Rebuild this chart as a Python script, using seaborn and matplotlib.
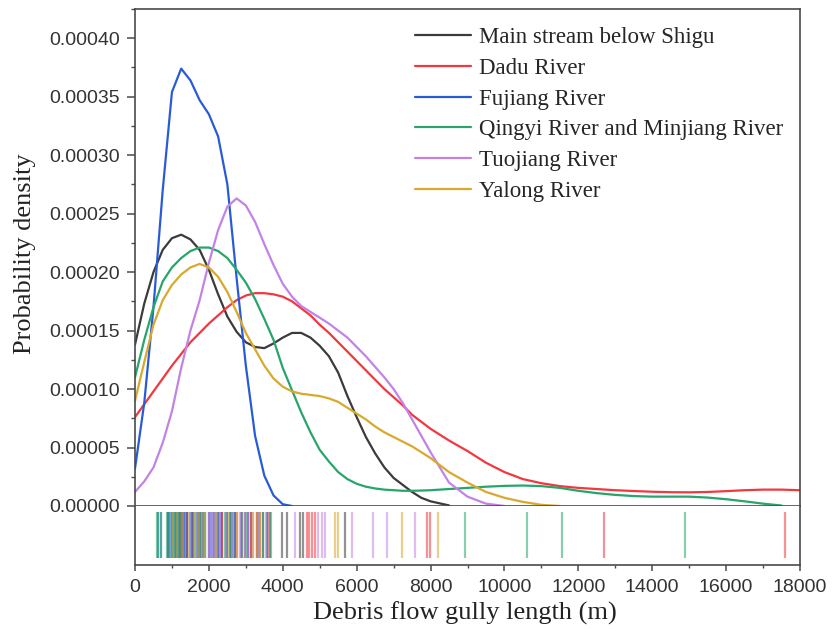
import numpy as np
import pandas as pd
import matplotlib
matplotlib.use("Agg")
import matplotlib.pyplot as plt
from matplotlib.ticker import MultipleLocator, FormatStrFormatter
import seaborn as sns

# ---- data -------------------------------------------------------------
rivers = [
    "Main stream below Shigu",
    "Dadu River",
    "Fujiang River",
    "Qingyi River and Minjiang River",
    "Tuojiang River",
    "Yalong River",
]
colors = ["#3b3b3b", "#f2383f", "#2a5bd7", "#27a56a", "#c383e6", "#d8a92c"]

# evaluation lengths (m): every 250 m up to 8000, then every 500 m
length_grid = list(range(0, 8001, 250)) + list(range(8500, 18001, 500))

# probability density along length_grid, in units of 1e-5 per metre
shigu_density = [13.8, 17.3, 20.0, 21.9, 22.9, 23.2, 22.8, 21.9, 20.2, 18.1,
                 16.2, 14.9, 14.0, 13.6, 13.5, 13.9, 14.4, 14.8, 14.8, 14.4,
                 13.7, 12.8, 11.4, 9.4, 7.6, 5.9, 4.5, 3.3, 2.4, 1.8,
                 1.2, 0.7, 0.4, 0.05]
dadu_density = [7.6, 8.7, 9.8, 10.9, 12.0, 13.0, 14.0, 14.8, 15.6, 16.3,
                17.0, 17.6, 18.0, 18.2, 18.2, 18.1, 17.9, 17.5, 16.9, 16.3,
                15.5, 14.8, 14.0, 13.2, 12.4, 11.6, 10.8, 10.0, 9.3, 8.6,
                7.8, 7.2, 6.6, 5.6, 4.7, 3.7, 2.9, 2.3, 1.95, 1.7,
                1.55, 1.45, 1.35, 1.28, 1.22, 1.18, 1.17, 1.2, 1.27, 1.35,
                1.4, 1.4, 1.35]
fujiang_density = [3.2, 8.8, 17.0, 27.0, 35.4, 37.4, 36.4, 34.7, 33.5, 31.6,
                   27.5, 19.5, 12.0, 6.0, 2.6, 0.9, 0.15, 0.0]
qingyi_minjiang_density = [11.0, 14.2, 17.0, 19.2, 20.4, 21.2, 21.8, 22.1, 22.1, 21.8,
                           21.2, 20.2, 19.1, 17.7, 16.0, 14.2, 11.8, 9.9, 8.0, 6.3,
                           4.8, 3.8, 2.9, 2.3, 1.9, 1.65, 1.5, 1.4, 1.35, 1.3,
                           1.3, 1.32, 1.35, 1.45, 1.55, 1.65, 1.72, 1.75, 1.7, 1.55,
                           1.3, 1.1, 0.95, 0.85, 0.8, 0.8, 0.8, 0.72, 0.58, 0.4,
                           0.2, 0.04]
tuojiang_density = [1.2, 2.1, 3.3, 5.4, 8.1, 11.8, 15.0, 17.6, 20.8, 23.6,
                    25.6, 26.3, 25.7, 24.3, 22.4, 20.6, 19.0, 17.9, 17.1, 16.6,
                    16.1, 15.6, 15.0, 14.4, 13.6, 12.8, 11.9, 11.0, 10.0, 8.8,
                    7.4, 6.0, 4.6, 2.0, 0.8, 0.2, 0.0]
yalong_density = [9.0, 12.3, 15.5, 17.6, 18.9, 19.8, 20.4, 20.7, 20.4, 19.6,
                  18.3, 16.6, 14.8, 13.4, 12.0, 10.9, 10.2, 9.8, 9.6, 9.5,
                  9.4, 9.2, 8.9, 8.4, 7.9, 7.4, 6.8, 6.3, 5.9, 5.5,
                  5.1, 4.6, 4.1, 2.9, 2.0, 1.2, 0.7, 0.35, 0.1, 0.0]

# individual debris flow gully lengths (m)
shigu_lengths = [900, 1040, 1150, 1230, 1310, 1400, 1530, 1700, 1850, 2260,
                 2350, 2480, 2570, 2700, 2980, 3070, 3150, 3300, 3470, 3650,
                 3970, 4110, 4470, 4560, 5690]
dadu_lengths = [1220, 1300, 1400, 1530, 1750, 2000, 2170, 2350, 2760, 2900,
                3150, 3290, 3380, 3600, 4650, 4720, 4800, 4870, 7900, 7990,
                12700, 17600]
fujiang_lengths = [620, 700, 880, 950, 1010, 1080, 1120, 1150, 1200, 1260,
                   1320, 1350, 1400, 1480, 1560, 1650, 1700, 1780, 1900, 2010,
                   2050, 2100, 2200, 2280, 2330, 2450, 2560, 2620, 2700, 2880,
                   3050, 3350, 3560]
qingyi_minjiang_lengths = [590, 620, 700, 860, 920, 990, 1060, 1120, 1180, 1250,
                           1600, 1760, 1900, 2150, 2440, 2500, 2570, 2650, 2890,
                           3000, 3470, 3560, 3680, 8930, 10600, 11550, 14890]
tuojiang_lengths = [1990, 2080, 2170, 2300, 2450, 2660, 2850, 2980, 3070, 3200,
                    3350, 3550, 4330, 4960, 5050, 5140, 5870, 6450, 6810, 7580]
yalong_lengths = [1040, 1150, 1310, 1450, 1620, 1700, 1900, 2200, 2550, 2750,
                  3200, 3290, 3380, 5410, 5500, 7220, 8210]

density_series = [shigu_density, dadu_density, fujiang_density,
                  qingyi_minjiang_density, tuojiang_density, yalong_density]
length_series = [shigu_lengths, dadu_lengths, fujiang_lengths,
                 qingyi_minjiang_lengths, tuojiang_lengths, yalong_lengths]

curves = pd.concat(
    [pd.DataFrame({"length": length_grid[:len(d)],
                   "density": np.asarray(d) * 1e-5,
                   "river": r})
     for r, d in zip(rivers, density_series)],
    ignore_index=True)
rug = pd.concat(
    [pd.DataFrame({"length": l, "river": r}) for r, l in zip(rivers, length_series)],
    ignore_index=True)
palette = dict(zip(rivers, colors))

# ---- style ------------------------------------------------------------
sns.set_style("ticks")
plt.rcParams["font.family"] = ["Liberation Serif", "DejaVu Serif"]
spine_col = "#4a4a4a"
tick_font = {"family": "Liberation Sans", "size": 14}

W, H = 832, 629
fig = plt.figure(figsize=(W / 100, H / 100), dpi=100)

def box(x0, y0, x1, y1):
    return [x0 / W, 1 - y1 / H, (x1 - x0) / W, (y1 - y0) / H]

ax = fig.add_axes(box(135, 9, 800, 506))
frame = fig.add_axes(box(135, 506, 800, 565), sharex=ax)
rug_ax = fig.add_axes(box(135, 512, 800, 558), sharex=ax)

# density curves
sns.lineplot(data=curves, x="length", y="density", hue="river",
             hue_order=rivers, palette=palette, estimator=None, sort=False,
             linewidth=1.6, ax=ax)

ax.set_xlim(0, 18000)
ax.set_ylim(0, 0.000425)
ax.yaxis.set_major_locator(MultipleLocator(0.00005))
ax.yaxis.set_minor_locator(MultipleLocator(0.000025))
ax.yaxis.set_major_formatter(FormatStrFormatter("%.5f"))
ax.tick_params(axis="y", which="major", direction="out", length=6, width=1.1,
               color=spine_col, pad=5, labelcolor="#333333")
ax.tick_params(axis="y", which="minor", direction="out", length=3, width=1.0,
               color=spine_col)
ax.tick_params(axis="x", which="both", bottom=False, labelbottom=False)
for lab in ax.get_yticklabels():
    lab.set_fontfamily(tick_font["family"])
    lab.set_fontsize(tick_font["size"])
for s in ax.spines.values():
    s.set_visible(True)
    s.set_color(spine_col)
    s.set_linewidth(1.2)
ax.set_xlabel("")
ax.set_ylabel("")

handles, labels = ax.get_legend_handles_labels()
ax.legend(handles, labels, loc="upper left",
          bbox_to_anchor=((415 - 135) / 665, 0.963), frameon=False,
          fontsize=16.5, handlelength=2.45, handletextpad=0.35,
          labelspacing=0.42, borderpad=0, borderaxespad=0)

# rug strip
frame.set_ylim(0, 1)
frame.set_yticks([])
frame.spines["top"].set_visible(False)
for side in ("left", "right", "bottom"):
    frame.spines[side].set_visible(True)
    frame.spines[side].set_color(spine_col)
    frame.spines[side].set_linewidth(1.2)
frame.xaxis.set_major_locator(MultipleLocator(2000))
frame.xaxis.set_minor_locator(MultipleLocator(1000))
frame.tick_params(axis="x", which="major", direction="out", length=4, width=1.1,
                  color=spine_col, pad=6, labelcolor="#333333")
frame.tick_params(axis="x", which="minor", direction="out", length=2.5, width=1.0,
                  color=spine_col)
for lab in frame.get_xticklabels():
    lab.set_fontfamily(tick_font["family"])
    lab.set_fontsize(tick_font["size"])
frame.set_xlabel("")

sns.rugplot(data=rug, x="length", hue="river", hue_order=rivers, palette=palette,
            height=1.0, linewidth=1.6, alpha=0.55, legend=False, ax=rug_ax)
rug_ax.set_ylim(0, 1)
rug_ax.axis("off")

fig.text(465 / W, 1 - 613 / H, "Debris flow gully length (m)",
         ha="center", va="center", fontsize=19, color="#222222")
fig.text(25 / W, 1 - 254 / H, "Probability density", rotation=90,
         ha="center", va="center", fontsize=19, color="#222222")

fig.savefig("out.png", dpi=100)
